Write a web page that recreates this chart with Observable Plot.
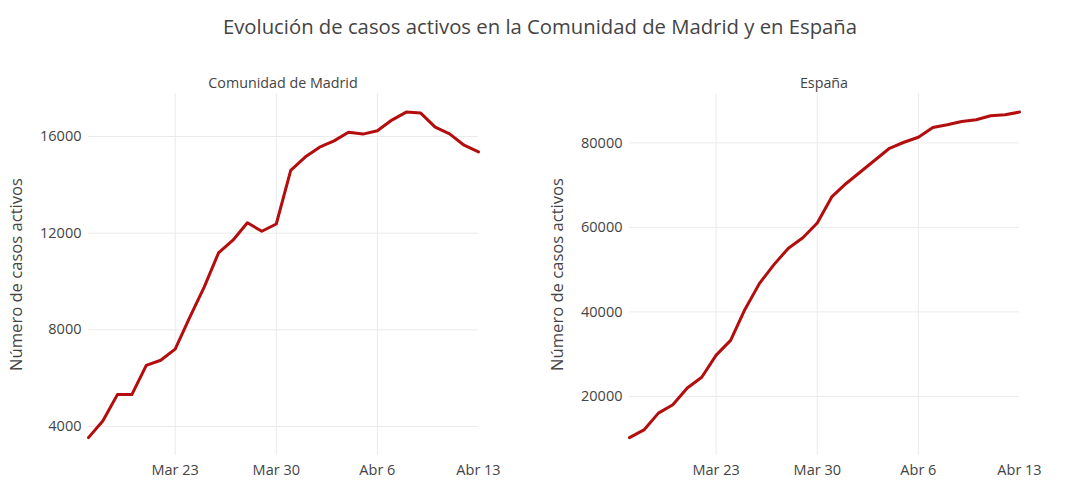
<!DOCTYPE html>
<html>
<head>
<meta charset="utf-8">
<script src="https://cdn.jsdelivr.net/npm/d3@7"></script>
<script src="https://cdn.jsdelivr.net/npm/@observablehq/plot@0.6"></script>
<style>
  html, body { margin: 0; padding: 0; background: #fff; }
  body { width: 1080px; height: 499px; position: relative; overflow: hidden; font-family: "Open Sans", sans-serif; color: #444; }
  #title { position: absolute; left: 0; width: 1080px; top: 12px; text-align: center; font-size: 20.3px; color: #444; z-index: 2; }
  .sub { position: absolute; top: 73px; width: 390px; text-align: center; font-size: 14.3px; color: #444; z-index: 2; }
  .panel { position: absolute; top: 60px; z-index: 1; }
</style>
</head>
<body>
<div id="title">Evolución de casos activos en la Comunidad de Madrid y en España</div>
<div class="sub" style="left:88px">Comunidad de Madrid</div>
<div class="sub" style="left:629px">España</div>
<div class="panel" id="left" style="left:0px"></div>
<div class="panel" id="right" style="left:540px"></div>
<script>
// Days: 17 Mar 2020 .. 13 Apr 2020
const startDay = [2020, 2, 17];
const madrid = [3540, 4240, 5320, 5320, 6530, 6740, 7200, 8510, 9760, 11180, 11710, 12430, 12080, 12380,
                14600, 15150, 15560, 15820, 16180, 16100, 16240, 16680, 17010, 16970, 16390, 16110, 15640, 15360];
const espana = [10240, 12060, 16030, 18020, 21980, 24520, 29760, 33250, 40640, 46750, 51190, 55080, 57540, 61030,
                67220, 70400, 73180, 75950, 78730, 80160, 81350, 83650, 84290, 85080, 85480, 86430, 86670, 87300];
const tickDates = ["2020-03-23", "2020-03-30", "2020-04-06", "2020-04-13"];
const tickLabels = ["Mar 23", "Mar 30", "Abr 6", "Abr 13"];
const gridDates = ["2020-03-23", "2020-03-30", "2020-04-06"];
const madridTicks = [4000, 8000, 12000, 16000];
const espanaTicks = [20000, 40000, 60000, 80000];
const madridDomain = [2800, 17780];
const espanaDomain = [6000, 91700];
const yTitle = "Número de casos activos";
const lineColor = "#b30d0d";

const toDate = s => new Date(s + "T00:00:00Z");
const dates = madrid.map((_, i) => new Date(Date.UTC(startDay[0], startDay[1], startDay[2] + i)));
const ticks = tickDates.map(toDate);
const gridTicks = gridDates.map(toDate);
const labelOf = d => tickLabels[ticks.findIndex(t => +t === +d)];

function panel(values, yTicks, yDomain, ml, mr) {
  const data = values.map((v, i) => ({date: dates[i], value: v}));
  return Plot.plot({
    width: 540,
    height: 439,
    marginLeft: ml,
    marginRight: mr,
    marginTop: 33,
    marginBottom: 44,
    style: {fontFamily: "Open Sans, sans-serif", fontSize: "14.5px", color: "#444", background: "transparent"},
    x: {type: "utc", domain: [dates[0], dates[dates.length - 1]], label: null},
    y: {domain: yDomain, label: null},
    marks: [
      Plot.gridX(gridTicks, {stroke: "#ebebeb", strokeOpacity: 1, strokeWidth: 1}),
      Plot.gridY(yTicks, {stroke: "#ebebeb", strokeOpacity: 1, strokeWidth: 1}),
      Plot.axisX(ticks, {tickFormat: labelOf, tickSize: 0, tickPadding: 9, label: null, fontSize: 14.5}),
      Plot.axisY(yTicks, {tickFormat: d => String(d), tickSize: 0, tickPadding: 7, label: null, fontSize: 14.5}),
      Plot.axisY({ticks: [], label: yTitle, labelAnchor: "center", labelArrow: "none", labelOffset: 78, fontSize: 16.6, tickSize: 0}),
      Plot.lineY(data, {x: "date", y: "value", stroke: lineColor, strokeWidth: 3, strokeLinejoin: "round"})
    ]
  });
}

document.getElementById("left").appendChild(panel(madrid, madridTicks, madridDomain, 88, 62));
document.getElementById("right").appendChild(panel(espana, espanaTicks, espanaDomain, 89, 61));
</script>
</body>
</html>
